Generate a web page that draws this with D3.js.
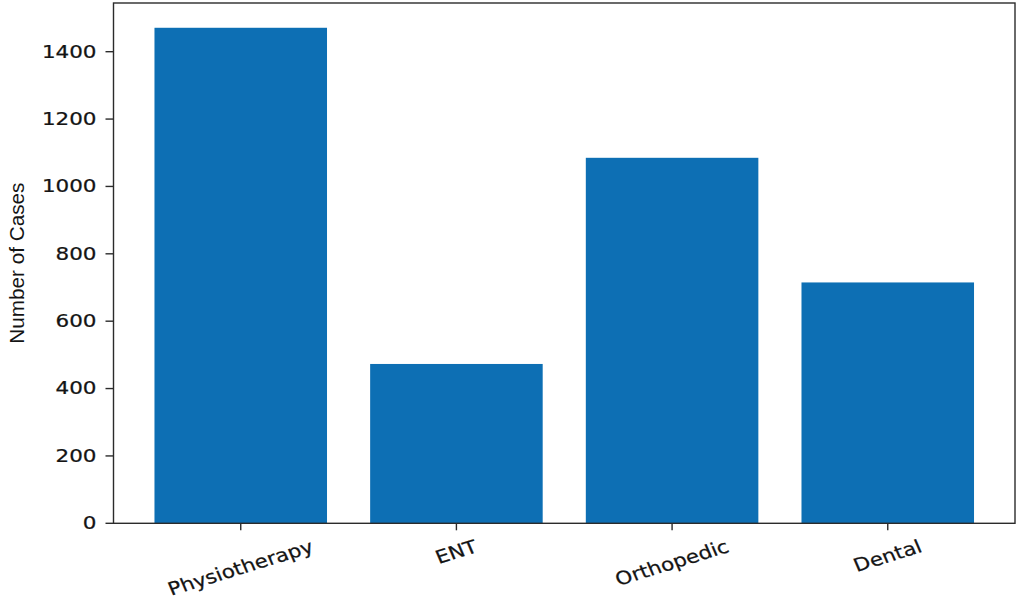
<!DOCTYPE html>
<html>
<head>
<meta charset="utf-8">
<script src="https://cdn.jsdelivr.net/npm/d3@7"></script>
<style>
  html, body { margin: 0; padding: 0; background: #ffffff; }
  svg { display: block; }
</style>
</head>
<body>
<svg id="chart" width="1016" height="604"></svg>
<script>
const categories = ["Physiotherapy", "ENT", "Orthopedic", "Dental"];
const cases = [1471, 473, 1085, 715];
const yTicks = [0, 200, 400, 600, 800, 1000, 1200, 1400];
const yLabel = "Number of Cases";

(function () {
const mLeft = 113.5, mRight = 1015, mTop = 3, mBottom = 523.3;
const svg = d3.select("#chart");
const axisColor = "#2b2b2b";
const textColor = "#141414";
const stretch = 1.18;

const x = d3.scaleLinear().domain([-0.59, categories.length - 1 + 0.59]).range([mLeft, mRight]);
const y = d3.scaleLinear().domain([0, d3.max(cases) * 1.05]).range([mBottom, mTop]);
const barW = 0.8;

// bars
svg.append("g").selectAll("rect").data(cases).join("rect")
  .attr("x", (d, i) => x(i - barW / 2))
  .attr("width", (d, i) => x(i + barW / 2) - x(i - barW / 2))
  .attr("y", d => y(d))
  .attr("height", d => y(0) - y(d))
  .attr("fill", "#0d6fb4");

// frame
svg.append("rect")
  .attr("x", mLeft).attr("y", mTop)
  .attr("width", mRight - mLeft).attr("height", mBottom - mTop)
  .attr("fill", "none").attr("stroke", axisColor).attr("stroke-width", 1.4);

// y ticks
const yg = svg.append("g");
yTicks.forEach(t => {
  const yy = y(t);
  yg.append("line").attr("x1", mLeft - 8).attr("x2", mLeft).attr("y1", yy).attr("y2", yy)
    .attr("stroke", axisColor).attr("stroke-width", 1.4);
  yg.append("text")
    .attr("transform", `translate(${mLeft - 17},${yy}) scale(${stretch},1)`)
    .attr("text-anchor", "end").attr("dominant-baseline", "central")
    .attr("font-family", "DejaVu Sans").attr("font-size", 18.2)
    .attr("fill", textColor).attr("stroke", textColor).attr("stroke-width", 0.25)
    .text(t);
});

// x ticks
const xg = svg.append("g");
categories.forEach((c, i) => {
  const xx = x(i);
  xg.append("line").attr("x1", xx).attr("x2", xx).attr("y1", mBottom).attr("y2", mBottom + 7)
    .attr("stroke", axisColor).attr("stroke-width", 1.4);
  const t = xg.append("text")
    .attr("text-anchor", "middle").attr("dominant-baseline", "central")
    .attr("font-family", "DejaVu Sans").attr("font-size", 18.2)
    .attr("fill", textColor).attr("stroke", textColor).attr("stroke-width", 0.25)
    .text(c);
  t.attr("transform", `translate(${xx},0) scale(${stretch},1) rotate(-20)`);
  const r = t.node().getBoundingClientRect();
  const cy = 536 + r.height / 2;
  t.attr("transform", `translate(${xx},${cy}) scale(${stretch},1) rotate(-20)`);
});

// y label
svg.append("text")
  .attr("transform", `translate(24,${(mTop + mBottom) / 2}) rotate(-90)`)
  .attr("text-anchor", "middle")
  .attr("font-family", "Liberation Sans").attr("font-size", 20.5)
  .attr("textLength", 161).attr("lengthAdjust", "spacingAndGlyphs")
  .attr("fill", textColor).text(yLabel);
})();
</script>
</body>
</html>
